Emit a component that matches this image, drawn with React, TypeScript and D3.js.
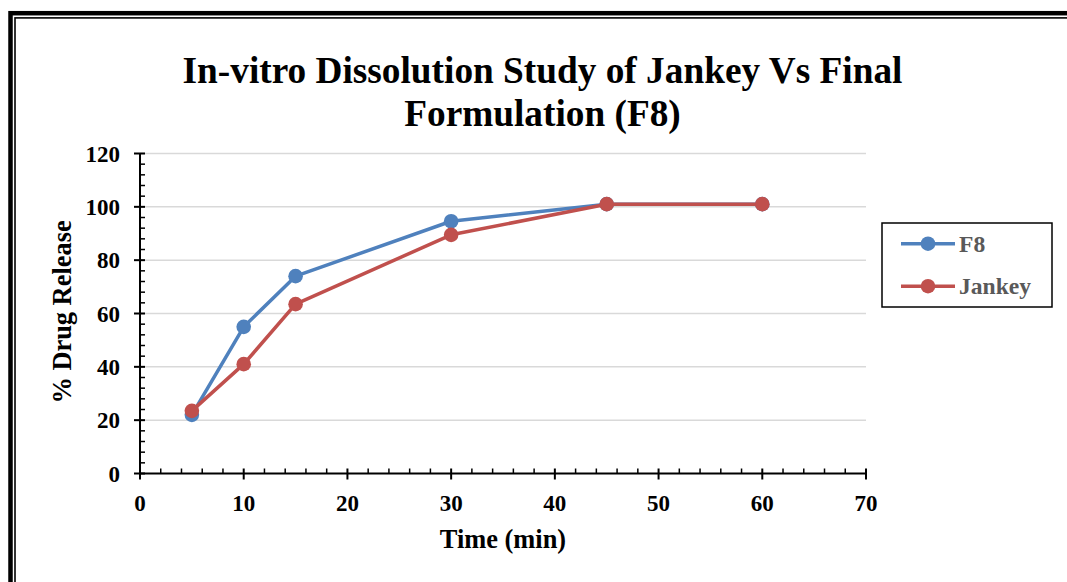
import React from "react";
import * as d3 from "d3";

const times = [5, 10, 15, 30, 45, 60];
const f8Values = [22, 55, 74, 94.6, 101, 101];
const jankeyValues = [23.5, 41, 63.5, 89.5, 101, 101];
const xTicks = [0, 10, 20, 30, 40, 50, 60, 70];
const yTicks = [0, 20, 40, 60, 80, 100, 120];
const seriesNames = ["F8", "Jankey"];
const seriesColors = ["#4F81BD", "#C0504D"];
const titleLines = ["In-vitro Dissolution Study of Jankey Vs Final", "Formulation (F8)"];

const W = 1067;
const H = 582;
const FONT = "'Liberation Serif', 'Times New Roman', serif";

export default function App() {
  const x = d3.scaleLinear().domain([0, 70]).range([140, 866]);
  const y = d3.scaleLinear().domain([0, 120]).range([473.5, 153.5]);
  const line = d3
    .line<[number, number]>()
    .x((d) => x(d[0]))
    .y((d) => y(d[1]));
  const series = [f8Values, jankeyValues].map((vals, i) => ({
    name: seriesNames[i],
    color: seriesColors[i],
    pts: times.map((t, j) => [t, vals[j]] as [number, number]),
  }));
  const xMinor = d3.range(0, 70.001, 2).filter((v) => v % 10 !== 0);
  const yMinor = d3.range(0, 120.001, 4).filter((v) => v % 20 !== 0);

  return (
    <svg
      width={W}
      height={H}
      style={{ position: "absolute", left: 0, top: 0, background: "#fff" }}
      fontFamily={FONT}
    >
      <rect x={0} y={0} width={W} height={H} fill="#fff" />
      {/* frame */}
      <rect x={10.5} y={13.2} width={W + 40} height={H + 40} fill="none" stroke="#000" strokeWidth={4.5} />
      <rect x={15} y={17.9} width={W + 40} height={H + 40} fill="none" stroke="#000" strokeWidth={1.6} />

      {/* title */}
      {titleLines.map((t, i) => (
        <text
          key={i}
          x={542.5}
          y={83 + i * 43}
          textAnchor="middle"
          fontSize={37.3}
          fontWeight="bold"
          fill="#000"
        >
          {t}
        </text>
      ))}

      {/* gridlines */}
      {yTicks
        .filter((v) => v > 0)
        .map((v) => (
          <line key={v} x1={x(0)} x2={x(70)} y1={y(v)} y2={y(v)} stroke="#D9D9D9" strokeWidth={1.5} />
        ))}

      {/* axes */}
      <line x1={x(0)} x2={x(0)} y1={y(120)} y2={y(0)} stroke="#000" strokeWidth={2} />
      <line x1={x(0)} x2={x(70)} y1={y(0)} y2={y(0)} stroke="#000" strokeWidth={2} />
      {yTicks.map((v) => (
        <line key={"ym" + v} x1={x(0) - 6} x2={x(0) + 5} y1={y(v)} y2={y(v)} stroke="#000" strokeWidth={2} />
      ))}
      {yMinor.map((v) => (
        <line key={"yn" + v} x1={x(0)} x2={x(0) + 5} y1={y(v)} y2={y(v)} stroke="#000" strokeWidth={1.5} />
      ))}
      {xTicks.map((v) => (
        <line key={"xm" + v} x1={x(v)} x2={x(v)} y1={y(0) - 5} y2={y(0) + 6} stroke="#000" strokeWidth={2} />
      ))}
      {xMinor.map((v) => (
        <line key={"xn" + v} x1={x(v)} x2={x(v)} y1={y(0) - 5} y2={y(0)} stroke="#000" strokeWidth={1.5} />
      ))}

      {/* tick labels */}
      {yTicks.map((v) => (
        <text key={"yl" + v} x={120} y={y(v) + 8} textAnchor="end" fontSize={23} fontWeight="bold" fill="#000">
          {v}
        </text>
      ))}
      {xTicks.map((v) => (
        <text key={"xl" + v} x={x(v)} y={511} textAnchor="middle" fontSize={23} fontWeight="bold" fill="#000">
          {v}
        </text>
      ))}

      {/* axis titles */}
      <text x={503} y={548} textAnchor="middle" fontSize={26.4} fontWeight="bold" fill="#000">
        Time (min)
      </text>
      <text
        transform={`translate(71, 312) rotate(-90)`}
        textAnchor="middle"
        fontSize={26.4}
        fontWeight="bold"
        fill="#000"
      >
        % Drug Release
      </text>

      {/* series */}
      {series.map((s) => (
        <g key={s.name}>
          <path d={line(s.pts) || ""} fill="none" stroke={s.color} strokeWidth={3.5} strokeLinejoin="round" />
          {s.pts.map((p, j) => (
            <circle key={j} cx={x(p[0])} cy={y(p[1])} r={7.3} fill={s.color} />
          ))}
        </g>
      ))}

      {/* legend */}
      <rect x={882} y={223} width={170} height={84} fill="#fff" stroke="#000" strokeWidth={1.5} />
      {series.map((s, i) => {
        const cy = 243.7 + i * 42.5;
        return (
          <g key={"lg" + s.name}>
            <line x1={901} x2={955} y1={cy} y2={cy} stroke={s.color} strokeWidth={3.5} />
            <circle cx={928} cy={cy} r={7.3} fill={s.color} />
            <text x={959} y={cy + 8} fontSize={23.6} fontWeight="bold" fill="#595959">
              {s.name}
            </text>
          </g>
        );
      })}
    </svg>
  );
}
